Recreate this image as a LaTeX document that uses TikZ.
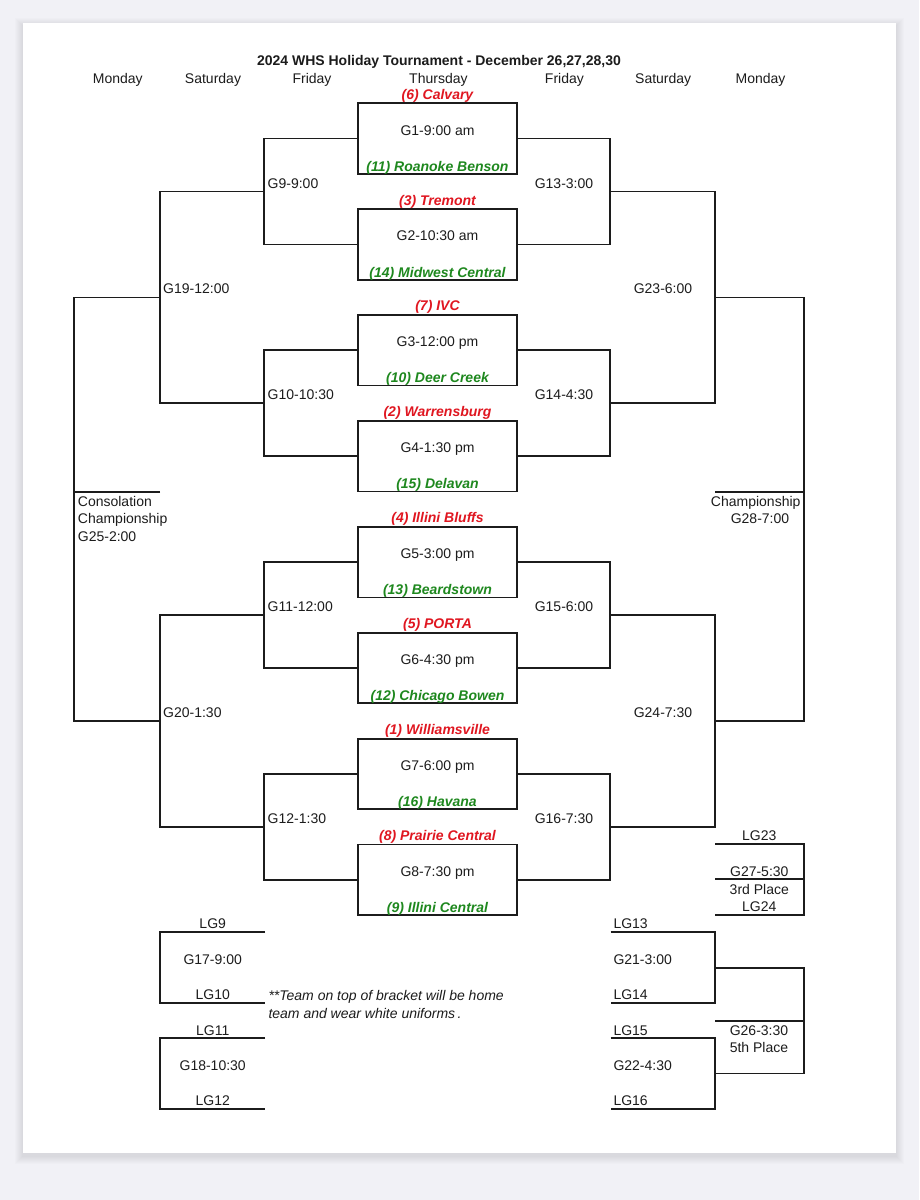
\documentclass[tikz,border=0pt]{standalone}
\usepackage{fontspec}
\setmainfont{Liberation Sans}
\definecolor{teamred}{RGB}{224,22,32}
\definecolor{teamgreen}{RGB}{30,136,30}
\definecolor{bgout}{RGB}{241,241,246}
\definecolor{ink}{RGB}{28,28,28}
\begin{document}
\begin{tikzpicture}[x=1pt,y=-1pt,
  bline/.style={draw=ink, line width=1.7pt, line join=miter},
  gbox/.style={draw=ink, line width=1.7pt, minimum width=159pt, minimum height=70.5pt, inner sep=0pt},
  lbl/.style={font=\fontsize{14}{16}\selectfont, inner sep=0pt, anchor=base, text=ink},
  lbll/.style={lbl, anchor=base west},
  teamr/.style={lbl, font=\fontsize{14}{16}\selectfont\bfseries\itshape, text=teamred},
  teamg/.style={lbl, font=\fontsize{14}{16}\selectfont\bfseries\itshape, text=teamgreen},
  titl/.style={lbl, font=\fontsize{14}{16}\selectfont\bfseries},
  notel/.style={lbll, font=\fontsize{14}{16}\selectfont\itshape}
]
\useasboundingbox (0,0) rectangle (919,1200);
\fill[bgout] (0,0) rectangle (919,1200);
% page shadow
\foreach \s in {1,...,8}{
  \fill[black, opacity=0.012] (23-\s,23-\s+3) rectangle (896+\s,1153+\s+3);
}
\fill[white] (23,23) rectangle (896,1153);

% title and headers
\node[titl] (title) at (439,65) {2024 WHS Holiday Tournament - December 26,27,28,30};
\node[lbl] (h1) at (117.8,83.3) {Monday};
\node[lbl] (h2) at (213,83.3) {Saturday};
\node[lbl] (h3) at (312,83.3) {Friday};
\node[lbl] (h4) at (438.4,83.3) {Thursday};
\node[lbl] (h5) at (564.4,83.3) {Friday};
\node[lbl] (h6) at (663.2,83.3) {Saturday};
\node[lbl] (h7) at (760.5,83.3) {Monday};

% first round boxes
\foreach \i/\g/\r/\gr in {
  1/G1-9:00 am/(6) Calvary/(11) Roanoke Benson,
  2/G2-10:30 am/(3) Tremont/(14) Midwest Central,
  3/G3-12:00 pm/(7) IVC/(10) Deer Creek,
  4/G4-1:30 pm/(2) Warrensburg/(15) Delavan,
  5/G5-3:00 pm/(4) Illini Bluffs/(13) Beardstown,
  6/G6-4:30 pm/(5) PORTA/(12) Chicago Bowen,
  7/G7-6:00 pm/(1) Williamsville/(16) Havana,
  8/G8-7:30 pm/(8) Prairie Central/(9) Illini Central}{
  \node[gbox] (g\i) at (437.5,{138.5+105.9*(\i-1)}) {};
  \node[lbl] (gl\i) at ([yshift=3.5pt]g\i.center) {\g};
  \node[teamr] (tr\i) at ([yshift=3.3pt]g\i.north) {\r};
  \node[teamg] (tg\i) at ([yshift=3.5pt]g\i.south) {\gr};
}

% left bracket coordinates
\coordinate (L9) at (264,191.45);
\coordinate (L10) at (264,403.25);
\coordinate (L11) at (264,615.05);
\coordinate (L12) at (264,826.85);
\coordinate (L19) at (160,297.35);
\coordinate (L20) at (160,720.95);
\coordinate (L25) at (74.3,509.15);
\coordinate (Lcons) at (160,491.7);
% right bracket coordinates
\coordinate (R13) at (610,191.45);
\coordinate (R14) at (610,403.25);
\coordinate (R15) at (610,615.05);
\coordinate (R16) at (610,826.85);
\coordinate (R23) at (715.3,297.35);
\coordinate (R24) at (715.3,720.95);
\coordinate (R28) at (803.7,509.15);
\coordinate (Rchamp) at (715.3,491.7);

% left connectors
\draw[bline] (g1.west) -| (L9) |- (g2.west);
\draw[bline] (g3.west) -| (L10) |- (g4.west);
\draw[bline] (g5.west) -| (L11) |- (g6.west);
\draw[bline] (g7.west) -| (L12) |- (g8.west);
\draw[bline] (L9) -| (L19) |- (L10);
\draw[bline] (L11) -| (L20) |- (L12);
\draw[bline] (L19) -| (L25) |- (L20);
\draw[bline] (Lcons) -- (Lcons -| L25);
% right connectors
\draw[bline] (g1.east) -| (R13) |- (g2.east);
\draw[bline] (g3.east) -| (R14) |- (g4.east);
\draw[bline] (g5.east) -| (R15) |- (g6.east);
\draw[bline] (g7.east) -| (R16) |- (g8.east);
\draw[bline] (R13) -| (R23) |- (R14);
\draw[bline] (R15) -| (R24) |- (R16);
\draw[bline] (R23) -| (R28) |- (R24);
\draw[bline] (Rchamp) -- (Rchamp -| R28);

% bracket labels
\node[lbll] (n9) at (267.5,188) {G9-9:00};
\node[lbll] (n10) at (267.5,399.8) {G10-10:30};
\node[lbll] (n11) at (267.5,611.6) {G11-12:00};
\node[lbll] (n12) at (267.5,823.4) {G12-1:30};
\node[lbll] (n19) at (163,293.9) {G19-12:00};
\node[lbll] (n20) at (163,717.5) {G20-1:30};
\node[lbl] (n13) at (564,188) {G13-3:00};
\node[lbl] (n14) at (564,399.8) {G14-4:30};
\node[lbl] (n15) at (564,611.6) {G15-6:00};
\node[lbl] (n16) at (564,823.4) {G16-7:30};
\node[lbl] (n23) at (663,293.9) {G23-6:00};
\node[lbl] (n24) at (663,717.5) {G24-7:30};

\node[lbll] (c1) at (77.7,506) {Consolation};
\node[lbll] (c2) at (77.7,523.7) {Championship};
\node[lbll] (c3) at (77.7,541) {G25-2:00};
\node[lbl] (ch1) at (755.7,506) {Championship};
\node[lbl] (ch2) at (760,523.7) {G28-7:00};

% 3rd place (G27)
\coordinate (t27a) at (715.3,844.3);
\coordinate (t27m) at (715.3,879.3);
\coordinate (t27b) at (715.3,914.7);
\draw[bline] (t27a) -- ++(89,0) |- (t27b);
\draw[bline] (t27m) -- ++(89,0);
\node[lbl] (lg23) at (759.3,840.7) {LG23};
\node[lbl] (n27) at (759.3,876.7) {G27-5:30};
\node[lbl] (p3) at (759.3,894) {3rd Place};
\node[lbl] (lg24) at (759.3,911) {LG24};

% consolation G17, G18
\coordinate (k17a) at (265,932.3);
\coordinate (k17b) at (265,1002.7);
\coordinate (k18a) at (265,1038.3);
\coordinate (k18b) at (265,1108.7);
\draw[bline] (k17a) -- ++(-105,0) |- (k17b);
\draw[bline] (k18a) -- ++(-105,0) |- (k18b);
\node[lbl] (lg9) at (212.7,928) {LG9};
\node[lbl] (n17) at (212.7,964.3) {G17-9:00};
\node[lbl] (lg10) at (212.7,999.7) {LG10};
\node[lbl] (lg11) at (212.7,1035) {LG11};
\node[lbl] (n18) at (212.7,1070.3) {G18-10:30};
\node[lbl] (lg12) at (212.7,1105) {LG12};

% G21, G22, G26
\coordinate (k21a) at (610.7,932.3);
\coordinate (k21b) at (610.7,1003);
\coordinate (k22a) at (610.7,1038.3);
\coordinate (k22b) at (610.7,1108.7);
\coordinate (K21) at (715.3,967.7);
\coordinate (K22) at (715.3,1073.5);
\coordinate (K26) at (804.3,1020.6);
\coordinate (K26l) at (715.3,1021);
\draw[bline] (k21a) -| (K21) |- (k21b);
\draw[bline] (k22a) -| (K22) |- (k22b);
\draw[bline] (K21) -| (K26) |- (K22);
\draw[bline] (K26l) -- (K26l -| K26);
\node[lbll] (lg13) at (613.3,928.7) {LG13};
\node[lbll] (n21) at (613.3,964.3) {G21-3:00};
\node[lbll] (lg14) at (613.3,999.7) {LG14};
\node[lbll] (lg15) at (613.3,1035) {LG15};
\node[lbll] (n22) at (613.3,1070.3) {G22-4:30};
\node[lbll] (lg16) at (613.3,1105) {LG16};
\node[lbl] (n26) at (759,1035.3) {G26-3:30};
\node[lbl] (p5) at (759,1052.3) {5th Place};

% note
\node[notel] (note1) at (268.3,1000) {**Team on top of bracket will be home};
\node[notel] (note2) at (268.3,1018.3) {team and wear white uniforms\,.};
\end{tikzpicture}
\end{document}
